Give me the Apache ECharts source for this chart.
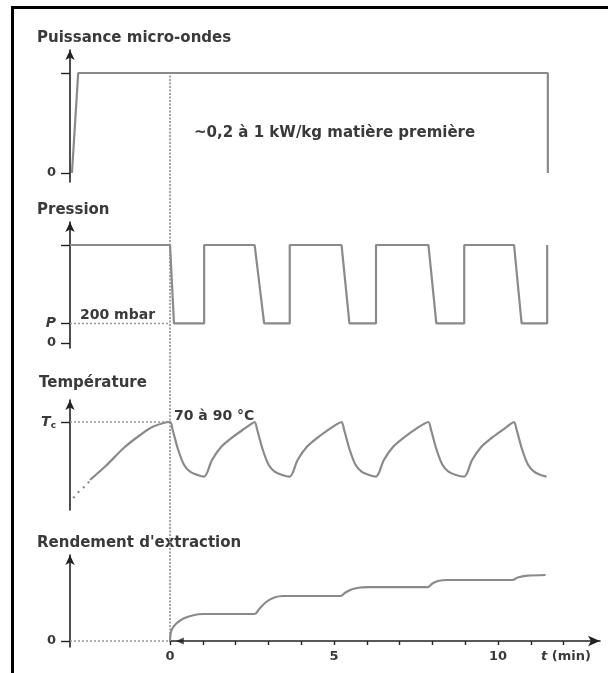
<!DOCTYPE html>
<html><head><meta charset="utf-8">
<script src="https://cdn.jsdelivr.net/npm/echarts@6/dist/echarts.min.js"></script>
<style>html,body{margin:0;padding:0;background:#fff}#c{width:608px;height:673px}</style>
</head><body><div id="c"></div>
<script>
// ---- time range (min) ----
const tMin = -3.05, tMax = 13.11;
const xTickValues = [0,1,2,3,4,5,6,7,8,9,10,11,12];
const xLabelValues = [0,5,10,12.07];

// ---- Puissance micro-ondes (relative level) ----
const powerData = [[-2.99,0],[-2.8,1],[11.52,1],[11.52,0]];

// ---- Pression (mbar) ----
const pressureLevelP = 200;
const pressureData = [[-3.05,1000],[0,1000],[0.12,200],[1.04,200],[1.04,1000],[2.58,1000],[2.87,200],[3.65,200],[3.65,1000],
  [5.23,1000],[5.47,200],[6.28,200],[6.28,1000],[7.88,1000],[8.12,200],[8.97,200],[8.97,1000],[10.49,1000],[10.72,200],[11.5,200],[11.5,1000]];

// ---- Température (°C) ----
const tcLevel = 80;
const temperatureWarmup = [[-2.95,42],[-2.74,46],[-2.54,48.5],[-2.44,51]];
const temperatureData = [[-2.44,51],[-1.93,58.5],[-1.42,66.9],[-0.91,73.5],[-0.51,77.7],
  [0,80],[0.08,76],[0.25,66],[0.43,58.5],[0.61,55.2],[0.84,53.5],[1.04,52.7],
  [1.28,61],[1.57,67.7],[1.93,72.7],[2.28,76.8],[2.5,79.3],[2.58,80],
  [2.66,76],[2.83,66],[3.01,58.5],[3.19,55.2],[3.42,53.5],[3.65,52.7],
  [3.89,61],[4.18,67.7],[4.54,72.7],[4.89,76.8],[5.13,79.3],[5.23,80],
  [5.31,76],[5.48,66],[5.66,58.5],[5.84,55.2],[6.07,53.5],[6.28,52.7],
  [6.52,61],[6.81,67.7],[7.17,72.7],[7.52,76.8],[7.77,79.3],[7.88,80],
  [7.96,76],[8.13,66],[8.31,58.5],[8.49,55.2],[8.72,53.5],[8.97,52.7],
  [9.21,61],[9.5,67.7],[9.86,72.7],[10.21,76.8],[10.41,79.3],[10.49,80],
  [10.57,76],[10.74,66],[10.92,58.5],[11.1,55.2],[11.3,53.5],[11.48,52.7]];

// ---- Rendement d'extraction (relative) ----
const yieldData = [[0,0],[0.02,8],[0.07,12.5],[0.2,17.7],[0.41,22.5],[0.71,25.8],[1.02,27],[2.58,27],
  [2.72,32],[2.93,39],[3.18,43.5],[3.45,45],[5.2,45],[5.35,48.5],[5.55,51.8],[5.8,53.5],[6.1,53.8],
  [7.85,53.8],[8.0,57.5],[8.2,60.2],[8.45,61],[10.45,61],[10.6,63.5],[10.9,65.3],[11.45,66]];

const FONT = 'DejaVu Sans';
const TXT = '#3a3a3a';
const CURVE = '#8a8a8a';
const AX = '#222';

function yAx(gi, min, max, ticks, labels, fmt, rich) {
  return {type:'value', gridIndex:gi, min:min, max:max, splitLine:{show:false},
    axisLine:{show:true, onZero:false, symbol:['none','arrow'], symbolSize:[7,10], lineStyle:{color:AX, width:1.6}},
    axisTick:{show:true, customValues:ticks, length:9, lineStyle:{color:AX, width:1.4}},
    axisLabel:{show:labels.length>0, customValues:labels, margin:14, formatter:fmt, color:TXT,
      fontFamily:FONT, fontWeight:'bold', fontSize:13, rich:rich||{}}
  };
}
function xHidden(gi){ return {type:'value', gridIndex:gi, min:tMin, max:tMax, show:false}; }
function line(gi, data, extra){
  return Object.assign({type:'line', xAxisIndex:gi, yAxisIndex:gi, data:data, symbol:'none', silent:true,
    lineStyle:{color:CURVE, width:2.2}}, extra||{});
}
function dotted(gi, data){
  return line(gi, data, {lineStyle:{color:'#999', width:1.5, type:[2,2]}});
}

const chart = echarts.init(document.getElementById('c'), null, {renderer:'canvas'});
const txt = (x,y,s,size,style) => ({type:'text', x:x, y:y, style:{text:s, fill:TXT,
  font:(style||'')+' bold '+(size||15)+'px "'+FONT+'"', verticalAlign:'middle', align:'left'}});

chart.setOption({
  animation:false,
  backgroundColor:'#fff',
  grid:[
    {left:70, right:8, top:50, height:132},
    {left:70, right:8, top:222, height:126},
    {left:70, right:8, top:400, height:110},
    {left:70, right:8, top:555, height:92},
    {left:170, right:8, top:555, height:86},
    {left:70, right:8, top:73, height:568}
  ],
  xAxis:[xHidden(0), xHidden(1), xHidden(2), xHidden(3),
    {type:'value', gridIndex:4, min:0, max:tMax, position:'bottom', splitLine:{show:false},
      axisLine:{show:true, onZero:false, symbol:['none','arrow'], symbolSize:[8,12], lineStyle:{color:AX, width:1.6}},
      axisTick:{show:true, customValues:xTickValues, length:4, lineStyle:{color:AX, width:1.4}},
      axisLabel:{customValues:xLabelValues, margin:9, color:TXT, fontFamily:FONT, fontWeight:'bold', fontSize:13,
        formatter:v => v > 11 ? '{i|t} (min)' : String(v), rich:{i:{fontStyle:'italic', fontFamily:FONT, fontWeight:'bold', fontSize:13, color:TXT}}}},
    xHidden(5)
  ],
  yAxis:[
    yAx(0, -0.09, 1.23, [0,1], [0], () => '0'),
    yAx(1, -51, 1235, [0,pressureLevelP,1000], [0,pressureLevelP], v => v === 0 ? '0' : '{p|P}',
      {p:{fontStyle:'italic', fontFamily:FONT, fontWeight:'bold', fontSize:14, color:TXT}}),
    yAx(2, 36, 91, [tcLevel], [tcLevel], () => '{t|T}{s|c}',
      {t:{fontStyle:'italic', fontFamily:FONT, fontWeight:'bold', fontSize:14, color:TXT},
       s:{fontFamily:FONT, fontWeight:'bold', fontSize:9, color:TXT, padding:[7,0,0,0]}}),
    yAx(3, -6, 86, [0], [0], () => '0'),
    {type:'value', gridIndex:4, min:0, max:1, show:false},
    {type:'value', gridIndex:5, min:0, max:1, show:false}
  ],
  series:[
    line(5, [[0,0],[0,1]], {lineStyle:{color:'#9a9a9a', width:1.8, type:[2,1.5]}, z:1}),
    dotted(1, [[tMin,pressureLevelP],[0,pressureLevelP]]),
    dotted(2, [[tMin,tcLevel],[0,tcLevel]]),
    dotted(3, [[tMin,0],[0,0]]),
    line(0, powerData),
    line(1, pressureData),
    line(2, temperatureWarmup, {lineStyle:{color:CURVE, width:2.2, type:[2,5]}}),
    line(2, temperatureData, {smooth:0.3}),
    line(3, yieldData, {smooth:0.3}),
    {type:'scatter', xAxisIndex:4, yAxisIndex:4, data:[[0.3,0]], symbol:'triangle', symbolSize:[7,8], symbolRotate:90,
      itemStyle:{color:AX}, silent:true}
  ],
  graphic:[
    {type:'polyline', shape:{points:[[12.5,673],[12.5,7.5],[608,7.5]]}, style:{stroke:'#000', lineWidth:3, fill:null}},
    txt(37, 38, 'Puissance micro-ondes'),
    txt(194, 133, '~0,2 à 1 kW/kg matière première'),
    txt(37, 210, 'Pression'),
    txt(80, 315, '200 mbar', 14),
    txt(39, 383, 'Température'),
    txt(174, 416, '70 à 90 °C', 14),
    txt(37, 543, "Rendement d'extraction")
  ]
});
</script></body></html>
